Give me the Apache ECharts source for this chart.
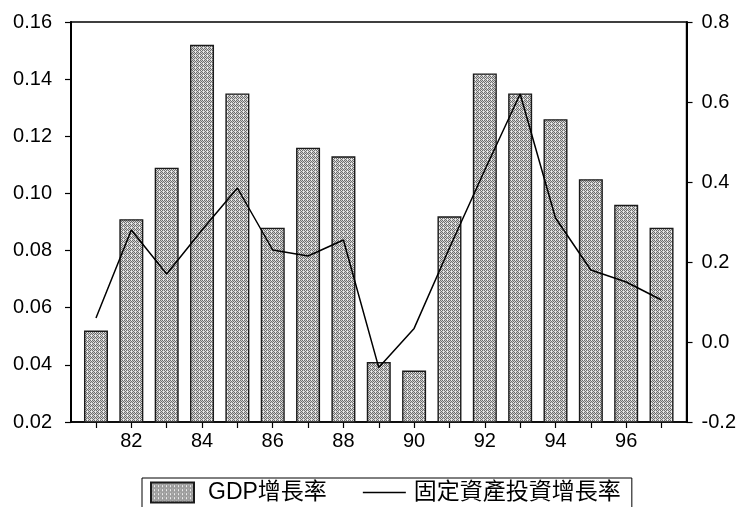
<!DOCTYPE html>
<html>
<head>
<meta charset="utf-8">
<script src="https://cdn.jsdelivr.net/npm/echarts@6/dist/echarts.min.js"></script>
<style>html,body{margin:0;padding:0;background:#fff}#c{width:739px;height:507px}</style>
</head>
<body>
<div id="c"></div>
<script>
// Data
const years = [81,82,83,84,85,86,87,88,89,90,91,92,93,94,95,96,97];
const gdpGrowth = [0.052,0.091,0.109,0.152,0.135,0.088,0.116,0.113,0.041,0.038,0.092,0.142,0.135,0.126,0.105,0.096,0.088];
const investGrowth = [0.06,0.28,0.17,0.28,0.385,0.23,0.215,0.255,-0.064,0.034,0.235,0.43,0.62,0.31,0.18,0.15,0.105];
const xTickYears = [81,82,83,84,85,86,87,88,89,90,91,92,93,94,95,96,97];
const xLabelYears = [82,84,86,88,90,92,94,96];
const seriesNames = ['GDP增長率','固定資產投資增長率'];

// texture for bars
const pc = document.createElement('canvas');
pc.width = 4; pc.height = 4;
const px = pc.getContext('2d');
px.fillStyle = '#cfcfcf'; px.fillRect(0,0,4,4);
px.fillStyle = '#6e6e6e';
[[0,0],[2,0],[1,1],[3,1],[0,2],[2,2],[1,3]].forEach(p=>px.fillRect(p[0],p[1],1,1));
px.fillStyle = '#ececec';
[[3,0],[1,2],[3,3]].forEach(p=>px.fillRect(p[0],p[1],1,1));
const barFill = {image: pc, repeat: 'repeat'};

const font = 'Liberation Sans, Arial, Noto Sans CJK TC, sans-serif';
const chart = echarts.init(document.getElementById('c'), null, {renderer:'canvas'});
chart.setOption({
  animation: false,
  backgroundColor: '#fff',
  grid: {left: 71, right: 52, top: 22, bottom: 85, show: true, borderColor: '#000', borderWidth: 1.5, backgroundColor: 'transparent'},
  legend: {
    data: [
      {name: seriesNames[0], icon: 'rect'},
      {name: seriesNames[1], icon: 'path://M0,0 L100,0 L100,3.5 L0,3.5 Z', textStyle: {padding: [0, 0, 0, 3]}}
    ],
    left: 142, top: 478,
    padding: [3, 11, 10, 8],
    borderColor: '#000', borderWidth: 1,
    itemGap: 36, itemWidth: 43, itemHeight: 20,
    symbolKeepAspect: true,
    textStyle: {fontSize: 23, color: '#000', padding: [0, 0, 0, 9], fontFamily: 'Liberation Sans, Noto Sans CJK TC, sans-serif'}
  },
  xAxis: {
    type: 'value', min: 80.293, max: 97.707,
    splitLine: {show: false},
    axisLine: {show: true, onZero: false, lineStyle: {color: '#000', width: 1.5}},
    axisTick: {show: true, customValues: xTickYears, length: 6, lineStyle: {color: '#000', width: 1.2}},
    axisLabel: {customValues: xLabelYears, fontSize: 20, color: '#000', fontFamily: font, margin: 9,
      formatter: v => String(Math.round(v))}
  },
  yAxis: [
    {type: 'value', min: 0.02, max: 0.16, interval: 0.02, position: 'left',
     splitLine: {show: false},
     axisLine: {show: true, lineStyle: {color: '#000', width: 2}},
     axisTick: {show: true, length: 6, lineStyle: {color: '#000', width: 1.2}},
     axisLabel: {fontSize: 20, color: '#000', fontFamily: font, margin: 19, formatter: v => v.toFixed(2)}},
    {type: 'value', min: -0.2, max: 0.8, interval: 0.2, position: 'right',
     splitLine: {show: false},
     axisLine: {show: true, lineStyle: {color: '#000', width: 2}},
     axisTick: {show: true, length: 6, lineStyle: {color: '#000', width: 1.2}},
     axisLabel: {fontSize: 20, color: '#000', fontFamily: font, margin: 15, formatter: v => v.toFixed(1)}}
  ],
  series: [
    {name: seriesNames[0], type: 'bar', yAxisIndex: 0, barWidth: 24,
     itemStyle: {color: barFill, borderColor: '#1a1a1a', borderWidth: 1.4},
     data: years.map((y,i)=>[y, gdpGrowth[i]])},
    {name: seriesNames[1], type: 'line', yAxisIndex: 1, symbol: 'none', showSymbol: false,
     lineStyle: {color: '#000', width: 1.5}, itemStyle: {color: '#000'},
     data: years.map((y,i)=>[y, investGrowth[i]]), z: 5}
  ]
});
</script>
</body>
</html>
